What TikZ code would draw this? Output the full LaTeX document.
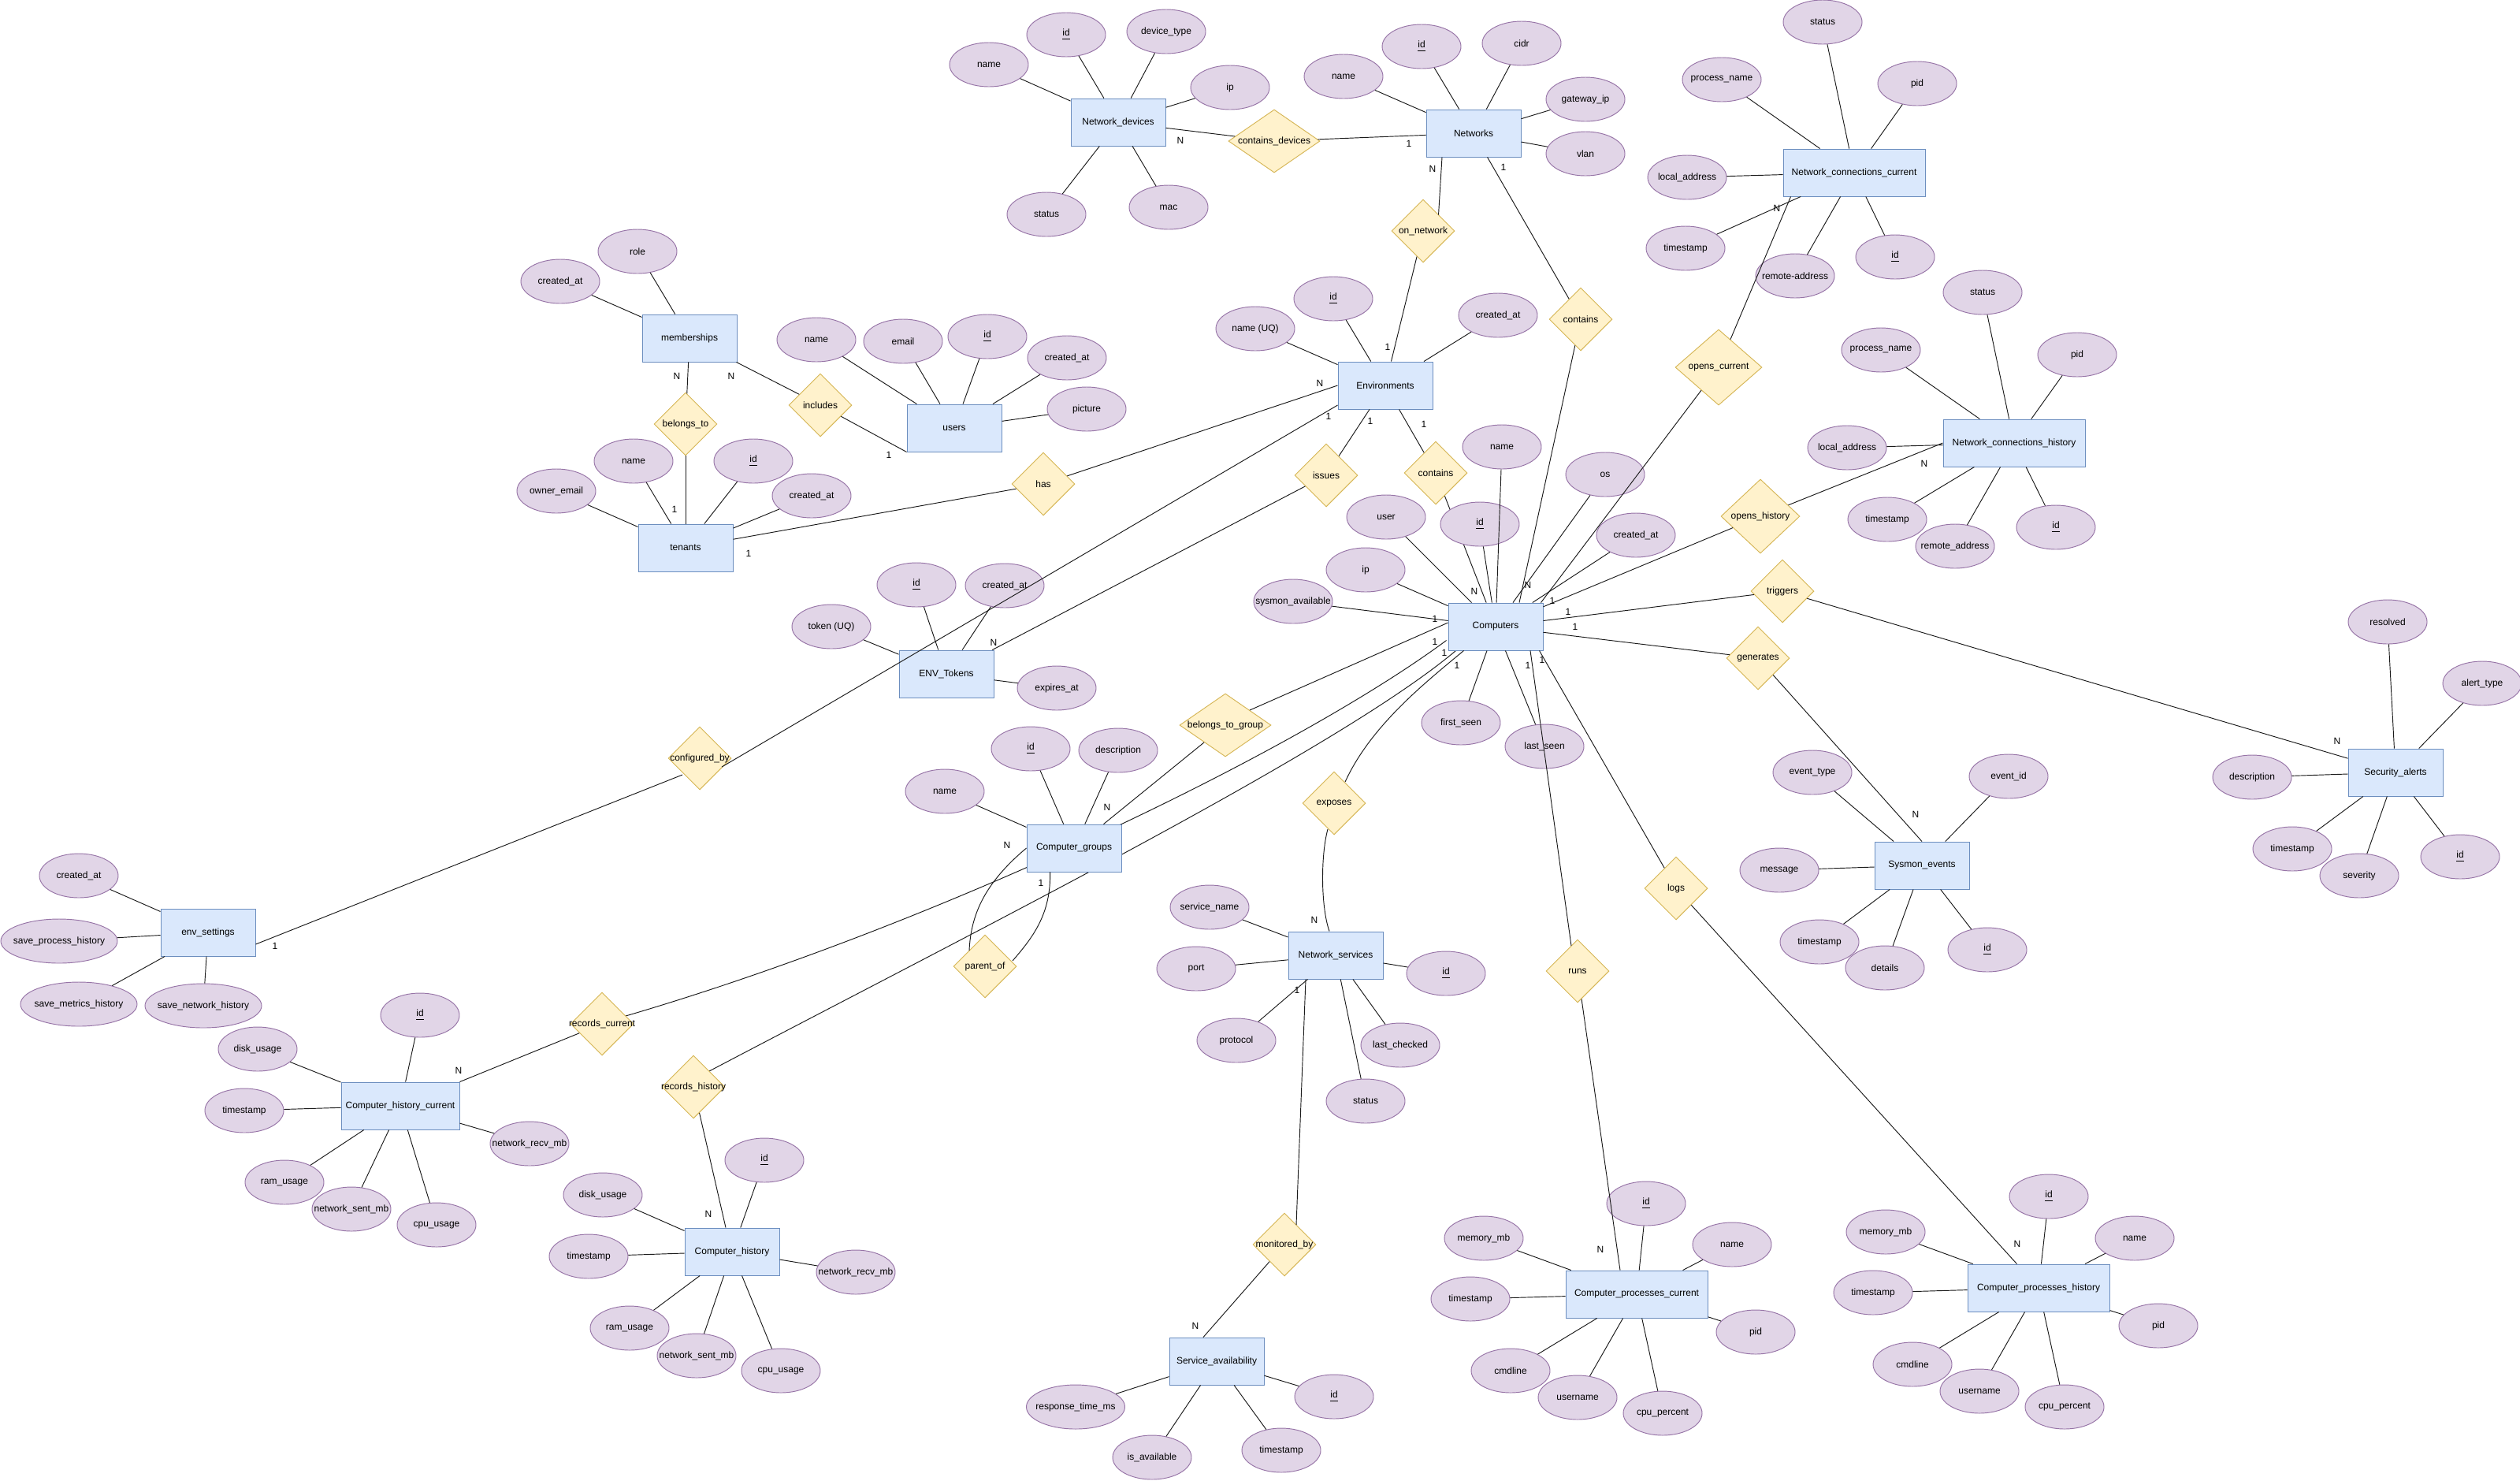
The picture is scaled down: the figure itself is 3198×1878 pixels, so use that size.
\documentclass[tikz,border=0pt]{standalone}
\usepackage{fontspec}
\setmainfont{Liberation Sans}
\usetikzlibrary{shapes.geometric,calc}
\definecolor{entF}{HTML}{DAE8FC}
\definecolor{entS}{HTML}{6C8EBF}
\definecolor{attF}{HTML}{E1D5E7}
\definecolor{attS}{HTML}{9673A6}
\definecolor{relF}{HTML}{FFF2CC}
\definecolor{relS}{HTML}{D6B656}
\definecolor{edgeC}{HTML}{1A1A1A}
\pgfdeclarelayer{bg}
\pgfdeclarelayer{paper}
\pgfsetlayers{paper,bg,main}
\newcommand\zb[1]{\makebox[0pt]{#1}}
\tikzset{
  ent/.style={rectangle, draw=entS, fill=entF, minimum width=1.8cm, minimum height=0.9cm, inner sep=0pt},
  entw/.style={ent, minimum width=2.7cm},
  att/.style={ellipse, draw=attS, fill=attF, minimum width=1.5cm, minimum height=0.84cm, inner sep=0pt},
  attw/.style={att, minimum width=2.22cm},
  rel/.style={diamond, draw=relS, fill=relF, minimum width=1.2cm, minimum height=1.2cm, inner sep=0pt},
  lbl/.style={inner sep=0pt},
  conn/.style={draw=edgeC}
}
\begin{document}
\begin{tikzpicture}[x=0.015cm,y=-0.015cm,line width=0.43pt,font=\fontsize{5.12}{6}\selectfont]
\useasboundingbox (0,0) rectangle (3198,1878);
\begin{pgfonlayer}{paper}
\fill[white] (0,0) rectangle (3198,1878);
\end{pgfonlayer}

% ---------- entities ----------
\node[ent] (nd) at (1419,155) {Network\_devices};
\node[ent] (net) at (1870,169) {Networks};
\node[entw] (ncc) at (2353,219) {Network\_connections\_current};
\node[ent] (memb) at (875,429) {memberships};
\node[ent] (users) at (1211,543) {users};
\node[ent] (env) at (1758,489) {Environments};
\node[entw] (nch) at (2556,562) {Network\_connections\_history};
\node[ent] (ten) at (870,695) {tenants};
\node[ent] (tok) at (1201,855) {ENV\_Tokens};
\node[ent] (comp) at (1898,795) {Computers};
\node[ent] (sa) at (3040,980) {Security\_alerts};
\node[ent] (cg) at (1363,1076) {Computer\_groups};
\node[ent] (sys) at (2439,1098) {Sysmon\_events};
\node[ent] (es) at (264,1183) {env\_settings};
\node[ent] (ns) at (1695,1212) {Network\_services};
\node[ent, minimum width=2.25cm] (chc) at (508,1403) {Computer\_history\_current};
\node[ent] (ch) at (929,1588) {Computer\_history};
\node[entw] (cpc) at (2077,1642) {Computer\_processes\_current};
\node[entw] (cph) at (2587,1634) {Computer\_processes\_history};
\node[ent] (sav) at (1544,1727) {Service\_availability};

% ---------- relationships ----------
\node[rel, minimum width=1.74cm] (cd) at (1617,179) {\zb{contains\_devices}};
\node[rel] (onnet) at (1806,293) {\zb{on\_network}};
\node[rel] (cont1) at (2006,405) {\zb{contains}};
\node[rel, minimum width=1.65cm, minimum height=1.44cm] (oc) at (2181,466) {\zb{opens\_current}};
\node[rel] (bt) at (870,538) {\zb{belongs\_to}};
\node[rel] (inc) at (1041,514) {\zb{includes}};
\node[rel] (has) at (1324,614) {\zb{has}};
\node[rel] (iss) at (1683,603) {\zb{issues}};
\node[rel] (cont2) at (1822,600) {\zb{contains}};
\node[rel, minimum width=1.5cm, minimum height=1.41cm] (oh) at (2234,655) {\zb{opens\_history}};
\node[rel] (trig) at (2262,750) {\zb{triggers}};
\node[rel] (gen) at (2231,835) {\zb{generates}};
\node[rel, minimum width=1.74cm] (btg) at (1555,920) {\zb{belongs\_to\_group}};
\node[rel] (cfg) at (888,962) {\zb{configured\_by}};
\node[rel] (exp) at (1693,1019) {\zb{exposes}};
\node[rel] (logs) at (2127,1127) {\zb{logs}};
\node[rel] (po) at (1250,1226) {\zb{parent\_of}};
\node[rel] (runs) at (2002,1232) {\zb{runs}};
\node[rel] (rc) at (764,1299) {\zb{records\_current}};
\node[rel] (rh) at (880,1379) {\zb{records\_history}};
\node[rel] (mb) at (1630,1579) {\zb{monitored\_by}};

% ---------- attributes ----------
\node[att] (nd1) at (1353,44) {\zb{\underline{id}}};
\node[att] (nd2) at (1480,40) {\zb{device\_type}};
\node[att] (nd3) at (1255,82) {\zb{name}};
\node[att] (nd4) at (1561,111) {\zb{ip}};
\node[att] (nd5) at (1328,272) {\zb{status}};
\node[att] (nd6) at (1483,263) {\zb{mac}};

\node[att] (net1) at (1804,59) {\zb{\underline{id}}};
\node[att] (net2) at (1931,55) {\zb{cidr}};
\node[att] (net3) at (1705,97) {\zb{name}};
\node[att] (net4) at (2012,126) {\zb{gateway\_ip}};
\node[att] (net5) at (2012,195) {\zb{vlan}};

\node[att] (ncc1) at (2313,28) {\zb{status}};
\node[att] (ncc2) at (2185,101) {\zb{process\_name}};
\node[att] (ncc3) at (2433,106) {\zb{pid}};
\node[att] (ncc4) at (2141,225) {\zb{local\_address}};
\node[att] (ncc5) at (2139,315) {\zb{timestamp}};
\node[att] (ncc6) at (2278,350) {\zb{remote-address}};
\node[att] (ncc7) at (2405,326) {\zb{\underline{id}}};

\node[att] (m1) at (809,319) {\zb{role}};
\node[att] (m2) at (711,357) {\zb{created\_at}};

\node[att] (u1) at (1036,431) {\zb{name}};
\node[att] (u2) at (1146,433) {\zb{email}};
\node[att] (u3) at (1253,427) {\zb{\underline{id}}};
\node[att] (u4) at (1354,454) {\zb{created\_at}};
\node[att] (u5) at (1379,519) {\zb{picture}};

\node[att] (e1) at (1692,379) {\zb{\underline{id}}};
\node[att] (e2) at (1593,417) {\zb{name (UQ)}};
\node[att] (e3) at (1901,400) {\zb{created\_at}};

\node[att] (h1) at (2516,371) {\zb{status}};
\node[att] (h2) at (2387,444) {\zb{process\_name}};
\node[att] (h3) at (2636,450) {\zb{pid}};
\node[att] (h4) at (2344,568) {\zb{local\_address}};
\node[att] (h5) at (2395,659) {\zb{timestamp}};
\node[att] (h6) at (2481,693) {\zb{remote\_address}};
\node[att] (h7) at (2609,669) {\zb{\underline{id}}};

\node[att] (t1) at (804,585) {\zb{name}};
\node[att] (t2) at (956,585) {\zb{\underline{id}}};
\node[att] (t3) at (706,623) {\zb{owner\_email}};
\node[att] (t4) at (1030,629) {\zb{created\_at}};

\node[att] (c1) at (1906,567) {\zb{name}};
\node[att] (c2) at (2037,602) {\zb{os}};
\node[att] (c3) at (1759,656) {\zb{user}};
\node[att] (c4) at (1878,665) {\zb{\underline{id}}};
\node[att] (c5) at (2076,679) {\zb{created\_at}};
\node[att] (c6) at (1733,723) {\zb{ip}};
\node[att] (c7) at (1641,763) {\zb{sysmon\_available}};
\node[att] (c8) at (1854,917) {\zb{first\_seen}};
\node[att] (c9) at (1960,947) {\zb{last\_seen}};

\node[att] (k1) at (1163,742) {\zb{\underline{id}}};
\node[att] (k2) at (1275,743) {\zb{created\_at}};
\node[att] (k3) at (1055,795) {\zb{token (UQ)}};
\node[att] (k4) at (1341,873) {\zb{expires\_at}};

\node[att] (s1) at (3030,789) {\zb{resolved}};
\node[att] (s2) at (3150,867) {\zb{alert\_type}};
\node[att] (s3) at (2858,986) {\zb{description}};
\node[att] (s4) at (2909,1077) {\zb{timestamp}};
\node[att] (s5) at (2994,1111) {\zb{severity}};
\node[att] (s6) at (3122,1087) {\zb{\underline{id}}};

\node[att] (g1) at (1308,950) {\zb{\underline{id}}};
\node[att] (g2) at (1419,952) {\zb{description}};
\node[att] (g3) at (1199,1004) {\zb{name}};

\node[att] (y1) at (2300,980) {\zb{event\_type}};
\node[att] (y2) at (2549,985) {\zb{event\_id}};
\node[att] (y3) at (2258,1104) {\zb{message}};
\node[att] (y4) at (2309,1195) {\zb{timestamp}};
\node[att] (y5) at (2392,1228) {\zb{details}};
\node[att] (y6) at (2522,1205) {\zb{\underline{id}}};

\node[att] (es1) at (100,1111) {\zb{created\_at}};
\node[attw] (es2) at (75,1194) {\zb{save\_process\_history}};
\node[attw] (es3) at (100,1274) {\zb{save\_metrics\_history}};
\node[attw] (es4) at (258,1276) {\zb{save\_network\_history}};

\node[att] (n1) at (1535,1151) {\zb{service\_name}};
\node[att] (n2) at (1518,1229) {\zb{port}};
\node[att] (n3) at (1835,1235) {\zb{\underline{id}}};
\node[att] (n4) at (1569,1320) {\zb{protocol}};
\node[att] (n5) at (1777,1326) {\zb{last\_checked}};
\node[att] (n6) at (1733,1397) {\zb{status}};

\node[att] (a1) at (533,1288) {\zb{\underline{id}}};
\node[att] (a2) at (327,1331) {\zb{disk\_usage}};
\node[att] (a3) at (310,1409) {\zb{timestamp}};
\node[att] (a4) at (672,1451) {\zb{network\_recv\_mb}};
\node[att] (a5) at (361,1500) {\zb{ram\_usage}};
\node[att] (a6) at (446,1534) {\zb{network\_sent\_mb}};
\node[att] (a7) at (554,1554) {\zb{cpu\_usage}};

\node[att] (b1) at (970,1472) {\zb{\underline{id}}};
\node[att] (b2) at (765,1516) {\zb{disk\_usage}};
\node[att] (b3) at (747,1594) {\zb{timestamp}};
\node[att] (b4) at (1086,1614) {\zb{network\_recv\_mb}};
\node[att] (b5) at (799,1685) {\zb{ram\_usage}};
\node[att] (b6) at (884,1720) {\zb{network\_sent\_mb}};
\node[att] (b7) at (991,1739) {\zb{cpu\_usage}};

\node[att] (p1) at (2089,1527) {\zb{\underline{id}}};
\node[att] (p2) at (1883,1571) {\zb{memory\_mb}};
\node[att] (p3) at (2198,1579) {\zb{name}};
\node[att] (p4) at (1866,1648) {\zb{timestamp}};
\node[att] (p5) at (2228,1690) {\zb{pid}};
\node[att] (p6) at (1917,1739) {\zb{cmdline}};
\node[att] (p7) at (2002,1773) {\zb{username}};
\node[att] (p8) at (2110,1793) {\zb{cpu\_percent}};

\node[att] (q1) at (2600,1518) {\zb{\underline{id}}};
\node[att] (q2) at (2393,1563) {\zb{memory\_mb}};
\node[att] (q3) at (2709,1571) {\zb{name}};
\node[att] (q4) at (2377,1640) {\zb{timestamp}};
\node[att] (q5) at (2739,1682) {\zb{pid}};
\node[att] (q6) at (2427,1731) {\zb{cmdline}};
\node[att] (q7) at (2512,1765) {\zb{username}};
\node[att] (q8) at (2620,1785) {\zb{cpu\_percent}};

\node[att] (v1) at (1693,1772) {\zb{\underline{id}}};
\node[att, minimum width=1.875cm] (v2) at (1365,1785) {\zb{response\_time\_ms}};
\node[att] (v3) at (1626,1840) {\zb{timestamp}};
\node[att] (v4) at (1462,1849) {\zb{is\_available}};

% ---------- attribute links ----------
\foreach \a in {nd1,nd2,nd3,nd4,nd5,nd6} \draw[conn] (nd) -- (\a);
\foreach \a in {net1,net2,net3,net4,net5} \draw[conn] (net) -- (\a);
\foreach \a in {ncc1,ncc2,ncc3,ncc4,ncc5,ncc6,ncc7} \draw[conn] (ncc) -- (\a);
\foreach \a in {m1,m2} \draw[conn] (memb) -- (\a);
\foreach \a in {u1,u2,u3,u4,u5} \draw[conn] (users) -- (\a);
\foreach \a in {e1,e2,e3} \draw[conn] (env) -- (\a);
\foreach \a in {h1,h2,h3,h4,h5,h6,h7} \draw[conn] (nch) -- (\a);
\foreach \a in {t1,t2,t3,t4} \draw[conn] (ten) -- (\a);
\foreach \a in {c1,c2,c3,c4,c5,c6,c7,c8,c9} \draw[conn] (comp) -- (\a);
\foreach \a in {k1,k2,k3,k4} \draw[conn] (tok) -- (\a);
\foreach \a in {s1,s2,s3,s4,s5,s6} \draw[conn] (sa) -- (\a);
\foreach \a in {g1,g2,g3} \draw[conn] (cg) -- (\a);
\foreach \a in {y1,y2,y3,y4,y5,y6} \draw[conn] (sys) -- (\a);
\foreach \a in {es1,es2,es3,es4} \draw[conn] (es) -- (\a);
\foreach \a in {n1,n2,n3,n4,n5,n6} \draw[conn] (ns) -- (\a);
\foreach \a in {a1,a2,a3,a4,a5,a6,a7} \draw[conn] (chc) -- (\a);
\foreach \a in {b1,b2,b3,b4,b5,b6,b7} \draw[conn] (ch) -- (\a);
\foreach \a in {p1,p2,p3,p4,p5,p6,p7,p8} \draw[conn] (cpc) -- (\a);
\foreach \a in {q1,q2,q3,q4,q5,q6,q7,q8} \draw[conn] (cph) -- (\a);
\foreach \a in {v1,v2,v3,v4} \draw[conn] (sav) -- (\a);

% ---------- relationship links ----------
\draw[conn] (nd) -- (cd);
\draw[conn] (cd) -- (net);
\draw[conn] ($(net.south)+(-40,0)$) -- ($(onnet)+(19.5,-20.3)$);
\draw[conn] (onnet) -- (env);
\draw[conn] (net) -- (cont1);
\draw[conn] (cont1) -- ($(comp.north)+(30,0)$);
\draw[conn] ($(ncc.south west)+(10,0)$) -- (oc);
\draw[conn] (oc) -- ($(comp.north east)+(-3,0)$);
\draw[conn] (memb) -- (bt);
\draw[conn] (bt) -- (ten);
\draw[conn] (memb) -- (inc);
\draw[conn] (inc) -- (users.south west);
\draw[conn] (env.west) -- (has);
\draw[conn] (has) -- (ten);
\draw[conn] (env) -- (iss);
\draw[conn] (iss) -- (tok);
\draw[conn] (env) -- (cont2);
\draw[conn] (oh) -- (nch.west);
\draw[conn] (oh) -- (comp);
\draw[conn] (comp) -- (trig);
\draw[conn] (trig) -- (sa);
\draw[conn] (comp) -- (gen);
\draw[conn] (gen) -- (sys.north);
\draw[conn] ($(comp.west)+(0,-5)$) -- ($(btg)+(31,-19)$);
\draw[conn] (btg) -- (cg);
\draw[conn] ($(env.west)+(0,25)$) -- ($(cfg)+(28,11)$);
\draw[conn] ($(cfg)+(-22,21)$) -- ($(es.east)+(0,15)$);
\draw[conn] ($(comp.south west)+(20,0)$) .. controls (1810,865) and (1740,920) .. ($(exp)+(14,-27)$);
\draw[conn] ($(exp)+(-8,33)$) .. controls (1676,1085) and (1676,1150) .. ($(ns.north)+(-8,0)$);
\draw[conn] ($(comp.south)+(44,0)$) -- ($(runs)+(-8,-32)$);
\draw[conn] (runs) -- ($(cpc.north)+(-21,0)$);
\draw[conn] ($(comp.south east)+(-5,0)$) -- (logs);
\draw[conn] (logs) -- (cph);
\draw[conn] ($(ns.south)+(-38,0)$) -- ($(mb)+(15,-25)$);
\draw[conn] (mb) -- ($(sav.north)+(-17,0)$);
\draw[conn] (rc) -- (chc.north east);
\draw[conn] (rh) -- ($(ch.north)+(-8,0)$);
\draw[conn] (cg.west) .. controls (1250,1120) and (1232,1160) .. ($(po)+(-20,-20)$);
\draw[conn] ($(cg.south west)+(30,0)$) .. controls (1334,1160) and (1310,1190) .. ($(po)+(35,-7)$);
\begin{pgfonlayer}{bg}
\draw[conn] (cont2) -- (comp);
\draw[conn] ($(rc)+(30,-10)$) .. controls (1200,1170) and (1650,950) .. ($(comp.south west)+(-2,-13)$);
\draw[conn] ($(rh)+(20,-20)$) .. controls (1250,1175) and (1700,950) .. ($(comp.south west)+(10,0)$);
\end{pgfonlayer}

% ---------- cardinality labels ----------
\node[lbl] (L1) at (1498,178) {N};
\node[lbl] (L2) at (1788,182) {1};
\node[lbl] (L3) at (1818,214) {N};
\node[lbl] (L4) at (1761,440) {1};
\node[lbl] (L5) at (1908,212) {1};
\node[lbl] (L6) at (1939,742) {N};
\node[lbl] (L7) at (2255,264) {N};
\node[lbl] (L8) at (1970,762) {1};
\node[lbl] (L9) at (859,477) {N};
\node[lbl] (L10) at (856,646) {1};
\node[lbl] (L11) at (928,477) {N};
\node[lbl] (L12) at (1128,577) {1};
\node[lbl] (L13) at (1675,486) {N};
\node[lbl] (L14) at (950,702) {1};
\node[lbl] (L15) at (1739,534) {1};
\node[lbl] (L16) at (1261,815) {N};
\node[lbl] (L17) at (1807,538) {1};
\node[lbl] (L18) at (1871,750) {N};
\node[lbl] (L19) at (2442,588) {N};
\node[lbl] (L20) at (1990,776) {1};
\node[lbl] (L21) at (1999,795) {1};
\node[lbl] (L22) at (2966,940) {N};
\node[lbl] (L23) at (2431,1033) {N};
\node[lbl] (L24) at (1821,785) {1};
\node[lbl] (L25) at (1405,1024) {N};
\node[lbl] (L26) at (1686,528) {1};
\node[lbl] (L27) at (349,1200) {1};
\node[lbl] (L28) at (1821,814) {1};
\node[lbl] (L29) at (1833,828) {1};
\node[lbl] (L30) at (1849,844) {1};
\node[lbl] (L31) at (1668,1167) {N};
\node[lbl] (L32) at (1939,844) {1};
\node[lbl] (L33) at (2031,1585) {N};
\node[lbl] (L34) at (1957,837) {1};
\node[lbl] (L35) at (2560,1578) {N};
\node[lbl] (L36) at (1278,1072) {N};
\node[lbl] (L37) at (1321,1120) {1};
\node[lbl] (L38) at (1646,1256) {1};
\node[lbl] (L39) at (1517,1682) {N};
\node[lbl] (L40) at (582,1358) {N};
\node[lbl] (L41) at (899,1540) {N};
\end{tikzpicture}
\end{document}
